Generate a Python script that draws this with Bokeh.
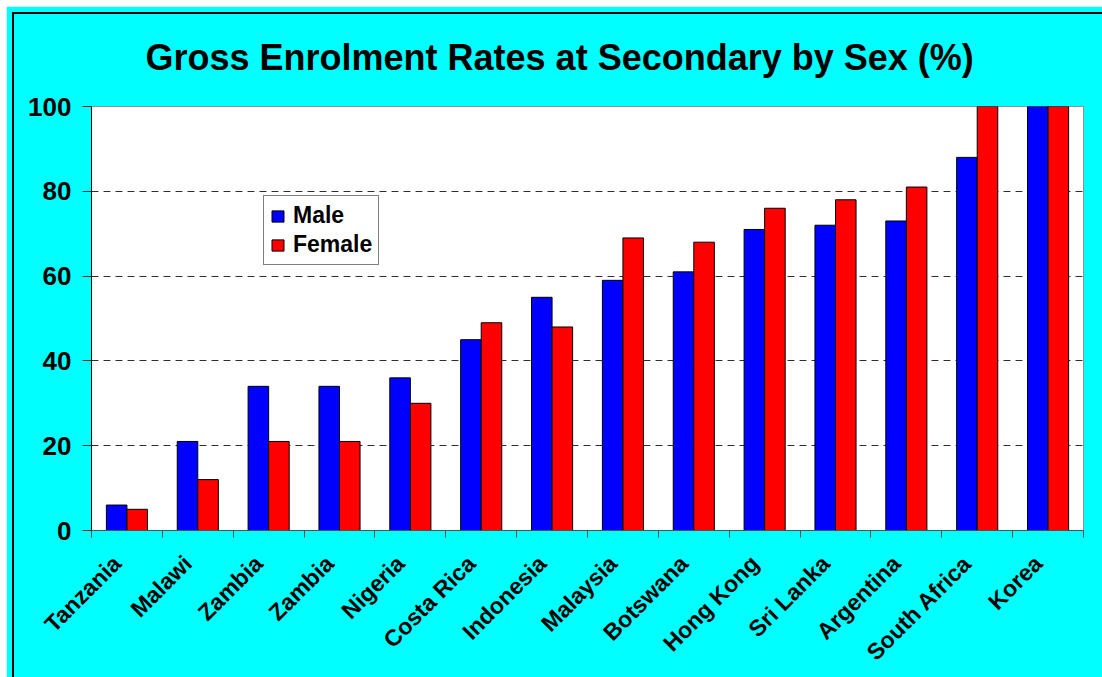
import math
from bokeh.plotting import figure
from bokeh.models import (FixedTicker, Legend, LegendItem, ColumnDataSource,
                          Title, InlineStyleSheet)
from bokeh.transform import dodge
from bokeh.embed import file_html
from bokeh.resources import INLINE

countries = ["Tanzania", "Malawi", "Zambia", "Zambia", "Nigeria", "Costa Rica",
             "Indonesia", "Malaysia", "Botswana", "Hong Kong", "Sri Lanka",
             "Argentina", "South Africa", "Korea"]
male = [6, 21, 34, 34, 36, 45, 55, 59, 61, 71, 72, 73, 88, 102]
female = [5, 12, 21, 21, 30, 49, 48, 69, 68, 76, 78, 81, 102, 102]
y_ticks = [0, 20, 40, 60, 80, 100]
series = ["Male", "Female"]
colors = ["#0000FF", "#FF0000"]

FONT = "Liberation Sans"
n = len(countries)
idx = list(range(n))
src = ColumnDataSource(dict(i=idx, male=male, female=female))

p = figure(width=1096, height=671, x_range=(0, n), y_range=(0, 100),
           output_backend="svg", toolbar_location=None,
           min_border_left=85, min_border_right=19,
           min_border_top=100, min_border_bottom=145)
p.border_fill_color = "#00FFFF"
p.background_fill_color = "#FFFFFF"
p.outline_line_color = "#909090"
p.outline_line_width = 1

p.title = Title(text="Gross Enrolment Rates at Secondary by Sex (%)", align="left",
                offset=54, text_font=FONT, text_font_style="bold", text_font_size="36px",
                text_color="#000000", standoff=57)

r1 = p.vbar(x=dodge("i", 0.355, range=p.x_range), top="male", width=0.29, bottom=0,
            source=src, fill_color=colors[0], line_color="#000000", line_width=1)
r2 = p.vbar(x=dodge("i", 0.645, range=p.x_range), top="female", width=0.29, bottom=0,
            source=src, fill_color=colors[1], line_color="#000000", line_width=1)

# grid
p.xgrid.visible = False
p.ygrid.ticker = FixedTicker(ticks=[t for t in y_ticks if t > 0])
p.ygrid.grid_line_color = "#303030"
p.ygrid.grid_line_dash = "7 5"
p.ygrid.grid_line_width = 1

# x axis: labels anchored slightly left of each group centre, ticks at boundaries
label_pos = [i + 0.36 for i in idx]
xa = p.xaxis[0]
xa.ticker = FixedTicker(ticks=label_pos, minor_ticks=list(range(n + 1)))
xa.major_label_overrides = {t: c for t, c in zip(label_pos, countries)}
xa.major_tick_in = 0
xa.major_tick_out = 0
xa.minor_tick_in = 0
xa.minor_tick_out = 7
xa.minor_tick_line_color = "#505050"
xa.axis_line_color = "#505050"
xa.major_label_orientation = math.pi / 4
xa.major_label_text_font = FONT
xa.major_label_text_font_style = "bold"
xa.major_label_text_font_size = "23px"
xa.major_label_text_color = "#000000"
xa.major_label_standoff = 22

# y axis
ya = p.yaxis[0]
ya.ticker = FixedTicker(ticks=y_ticks)
ya.major_tick_in = 0
ya.major_tick_out = 9
ya.minor_tick_out = 0
ya.minor_tick_in = 0
ya.major_tick_line_color = "#303030"
ya.axis_line_color = "#000000"
ya.major_label_text_font = FONT
ya.major_label_text_font_style = "bold"
ya.major_label_text_font_size = "26px"
ya.major_label_text_color = "#000000"
ya.major_label_standoff = 11

legend = Legend(items=[LegendItem(label=series[0], renderers=[r1]),
                       LegendItem(label=series[1], renderers=[r2])],
                location=(172, 265))
legend.border_line_color = "#000000"
legend.border_line_width = 1
legend.background_fill_color = "#FFFFFF"
legend.background_fill_alpha = 1
legend.label_text_font = FONT
legend.label_text_font_style = "bold"
legend.label_text_font_size = "23px"
legend.label_text_color = "#000000"
legend.glyph_width = 15
legend.glyph_height = 14
legend.label_standoff = 8
legend.spacing = 2
legend.padding = 6
legend.margin = 0
legend.label_height = 24
p.add_layout(legend)

p.styles = {"margin-left": "6px", "margin-top": "6px"}
p.stylesheets = [InlineStyleSheet(css=""":host { position: relative; overflow: hidden; }
:host::after { content: ""; position: absolute; left: 6px; top: 6px; right: -20px; bottom: -20px;
  border: 2px solid #000; pointer-events: none; z-index: 10; }""")]

open("out.html", "w").write(file_html(p, INLINE))
